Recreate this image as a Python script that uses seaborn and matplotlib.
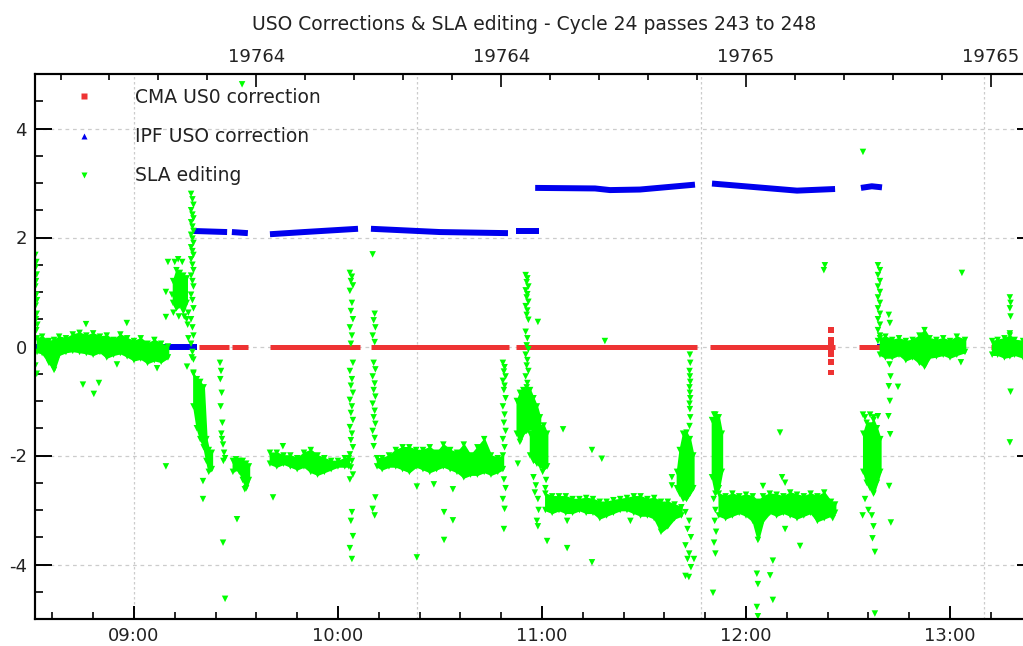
import matplotlib
matplotlib.use("Agg")
import matplotlib.pyplot as plt
from matplotlib.lines import Line2D
from matplotlib.ticker import FixedLocator, MultipleLocator, FixedFormatter, FuncFormatter
import numpy as np
import pandas as pd
import seaborn as sns

# ---------------- axis definitions (time in minutes after 00:00) ----------------
x_lo, x_hi = 510.9, 804.7
y_lo, y_hi = -5, 5
hour_ticks = [540, 600, 660, 720, 780]
hour_labels = ["09:00", "10:00", "11:00", "12:00", "13:00"]
day_ticks = [576, 648, 720, 792]
day_labels = ["19764", "19764", "19765", "19765"]
grid_times = [540, 623.33, 706.67, 790]
y_ticks = [-4, -2, 0, 2, 4]
title = "USO Corrections & SLA editing - Cycle 24 passes 243 to 248"
legend_labels = ["CMA US0 correction", "IPF USO correction", "SLA editing"]

# ---------------- CMA USO correction (runs at 0 + a few points) ----------------
cma_run_start = [559.1, 568.8, 580.0, 609.7, 652.4, 709.4, 753.2, 792.2]
cma_run_end = [568.0, 573.6, 606.5, 650.3, 705.6, 746.2, 784.4, 804.7]
cma_pts_t = [745.0, 745.0, 745.0, 745.0, 745.0, 745.0, 745.0]
cma_pts_v = [0.30, 0.12, 0.05, -0.08, -0.15, -0.28, -0.48]

# ---------------- IPF USO correction (segments) ----------------
ipf_seg0_t = [510.9, 558.5];            ipf_seg0_v = [0.0, 0.0]
ipf_seg1_t = [557.4, 567.4];            ipf_seg1_v = [2.12, 2.10]
ipf_seg2_t = [568.8, 573.5];            ipf_seg2_v = [2.10, 2.08]
ipf_seg3_t = [580.0, 590.0, 605.9];     ipf_seg3_v = [2.06, 2.10, 2.16]
ipf_seg4_t = [609.7, 630.0, 650.0];     ipf_seg4_v = [2.16, 2.10, 2.08]
ipf_seg5_t = [652.4, 659.1];            ipf_seg5_v = [2.12, 2.12]
ipf_seg6_t = [658.0, 675.6, 680.0, 688.8, 705.0]; ipf_seg6_v = [2.91, 2.90, 2.87, 2.88, 2.97]
ipf_seg7_t = [710.0, 735.0, 746.2];     ipf_seg7_v = [2.99, 2.86, 2.89]
ipf_seg8_t = [753.8, 757.0, 760.0];     ipf_seg8_v = [2.91, 2.94, 2.92]
ipf_seg9_t = [758.5, 784.0];            ipf_seg9_v = [0.0, 0.0]

# ---------------- SLA editing: dense bands (time, lower, upper) ----------------
bandA_t = [511.5, 513, 515, 516.5, 518, 520, 522, 524, 526, 528, 530, 532, 534, 536, 538, 540, 542, 544, 546, 548, 550]
bandA_hi = [0.15, 0.18, 0.1, 0.12, 0.18, 0.15, 0.22, 0.25, 0.2, 0.24, 0.18, 0.2, 0.12, 0.22, 0.15, 0.1, 0.15, 0.05, 0.12, 0.05, 0.0]
bandA_lo = [-0.1, -0.12, -0.3, -0.43, -0.15, -0.1, -0.08, -0.1, -0.12, -0.15, -0.1, -0.2, -0.15, -0.12, -0.18, -0.25, -0.22, -0.3, -0.25, -0.28, -0.2]
bandB_t = [551.5, 552.5, 553.5, 554.5, 555.5]
bandB_hi = [1.2, 1.4, 1.35, 1.3, 1.25]
bandB_lo = [0.8, 0.7, 0.75, 0.65, 0.8]
bandC0_t = [557.5, 558.5, 559.5, 560.5, 561.3, 562.0, 562.9]
bandC0_hi = [-0.5, -0.6, -0.65, -0.75, -1.7, -1.9, -1.95]
bandC0_lo = [-1.1, -1.5, -1.7, -1.85, -2.1, -2.3, -2.25]
bandC1_t = [569.1, 570, 571, 572, 573, 573.8]
bandC1_hi = [-2.1, -2.07, -2.1, -2.1, -2.15, -2.2]
bandC1_lo = [-2.3, -2.25, -2.3, -2.45, -2.6, -2.45]
bandC2_t = [580, 582, 584, 586, 588, 590, 592, 594, 596, 598, 600, 602, 603.2]
bandC2_hi = [-1.95, -1.95, -2.0, -2.0, -2.05, -1.95, -1.9, -2.0, -2.05, -2.1, -2.1, -2.05, -2.05]
bandC2_lo = [-2.15, -2.2, -2.15, -2.2, -2.25, -2.2, -2.3, -2.35, -2.3, -2.25, -2.2, -2.2, -2.2]
bandC3_t = [611.5, 613, 615, 617, 619, 621, 623, 625, 627, 629, 631, 633, 635, 637, 639, 641, 643, 645, 647, 648.5]
bandC3_hi = [-2.05, -2.05, -2.0, -1.9, -1.85, -1.85, -1.9, -1.9, -1.85, -1.95, -1.8, -1.9, -1.95, -1.8, -2.0, -1.85, -1.7, -2.0, -2.05, -2.0]
bandC3_lo = [-2.2, -2.25, -2.2, -2.2, -2.25, -2.3, -2.2, -2.25, -2.3, -2.25, -2.2, -2.25, -2.3, -2.4, -2.35, -2.35, -2.3, -2.35, -2.3, -2.25]
bandD0_t = [652.6, 653.5, 654.5, 655.5, 656.5, 657.5, 658.5, 659.4]
bandD0_hi = [-1.0, -0.85, -0.8, -0.75, -0.8, -0.95, -1.1, -1.3]
bandD0_lo = [-1.6, -1.75, -1.6, -1.55, -1.5, -1.55, -1.7, -1.9]
bandD1_t = [656.5, 657.5, 658.5, 659.5, 660.5, 661.5]
bandD1_hi = [-1.6, -1.5, -1.4, -1.5, -1.45, -1.6]
bandD1_lo = [-2.0, -2.1, -2.15, -2.2, -2.25, -2.2]
bandD2_t = [661, 663, 665, 667, 669, 671, 673, 675, 677, 679, 681, 683, 685, 687, 689, 691, 693, 695, 697, 699, 701]
bandD2_hi = [-2.7, -2.75, -2.75, -2.75, -2.8, -2.8, -2.78, -2.8, -2.85, -2.85, -2.82, -2.8, -2.78, -2.75, -2.75, -2.8, -2.78, -2.85, -2.85, -2.9, -2.95]
bandD2_lo = [-3.0, -3.05, -3.0, -3.05, -3.05, -3.0, -3.05, -3.05, -3.15, -3.1, -3.05, -3.0, -3.0, -3.05, -3.1, -3.1, -3.15, -3.4, -3.3, -3.15, -3.1]
bandE0_t = [699.7, 700.5, 701.5, 702.5, 703.5, 704.5]
bandE0_hi = [-2.3, -1.9, -1.6, -1.58, -1.7, -2.0]
bandE0_lo = [-2.6, -2.7, -2.8, -2.8, -2.7, -2.6]
bandE1_t = [710, 711, 712, 712.9]
bandE1_hi = [-1.35, -1.25, -1.3, -1.6]
bandE1_lo = [-2.4, -2.7, -2.6, -2.3]
bandE2_t = [712, 714, 716, 718, 720, 722, 723.5, 725, 727, 729, 731, 733, 735, 737, 739, 741, 743, 745, 746.2]
bandE2_hi = [-2.7, -2.75, -2.7, -2.75, -2.72, -2.75, -2.85, -2.75, -2.7, -2.72, -2.75, -2.68, -2.72, -2.75, -2.7, -2.75, -2.68, -2.85, -2.9]
bandE2_lo = [-3.1, -3.15, -3.1, -3.05, -3.1, -3.2, -3.55, -3.2, -3.05, -3.1, -3.05, -3.1, -3.15, -3.1, -3.05, -3.2, -3.15, -3.1, -3.05]
bandF0_t = [754.5, 755.5, 756.5, 757.5, 758.5, 759.5]
bandF0_hi = [-1.6, -1.4, -1.45, -1.35, -1.5, -1.7]
bandF0_lo = [-2.3, -2.5, -2.6, -2.7, -2.5, -2.3]
bandF1_t = [759.4, 761, 763, 765, 767, 769, 771, 772.5, 774, 776, 778, 780, 782, 784.4]
bandF1_hi = [0.15, 0.18, 0.12, 0.15, 0.1, 0.12, 0.2, 0.3, 0.15, 0.12, 0.15, 0.1, 0.18, 0.12]
bandF1_lo = [-0.15, -0.2, -0.2, -0.15, -0.25, -0.2, -0.3, -0.37, -0.2, -0.18, -0.15, -0.2, -0.15, -0.1]
bandG_t = [792.4, 794, 796, 797.6, 799, 801.5, 804.7]
bandG_hi = [0.1, 0.12, 0.15, 0.2, 0.12, 0.1, 0.1]
bandG_lo = [-0.15, -0.15, -0.2, -0.18, -0.15, -0.2, -0.2]

# ---------------- SLA editing: individual points ----------------
sla_start_t = [511.0, 511.3, 511.1, 511.4, 511.2, 511.0, 511.3, 511.5, 511.1, 511.4, 511.2, 511.6, 511.3, 511.0, 511.4]
sla_start_v = [1.68, 1.55, 1.45, 1.32, 1.2, 1.1, 0.95, 0.85, 0.75, 0.6, 0.5, 0.4, 0.3, -0.35, -0.5]
sla_early_t = [525.9, 537.9, 525.0, 529.7, 528.2, 535.0, 546.8, 549.4]
sla_early_v = [0.41, 0.43, -0.70, -0.67, -0.87, -0.33, -0.40, -2.2]
sla_clB_t = [550.0, 551.2, 551.6, 552.0, 553.0, 554.2, 554.8, 555.5, 553.2, 556.0, 555.8, 556.0, 555.6, 549.4, 549.4]
sla_clB_v = [1.55, 0.95, 0.62, 1.55, 1.6, 1.55, 0.55, 0.5, 0.55, 0.62, 0.4, 0.15, -0.37, 1.0, 0.54]
sla_tall_t = [556.8, 557.2, 557.5, 556.8, 557.2, 557.5, 556.8, 557.2, 557.5, 556.8, 557.2, 557.5, 556.8, 557.2, 557.5,
              556.8, 557.2, 557.5, 556.8, 557.2, 557.5, 556.8, 557.2, 557.5, 556.8, 557.2, 557.5, 556.8, 557.2, 557.5]
sla_tall_v = [2.8, 2.7, 2.6, 2.5, 2.42, 2.35, 2.28, 2.2, 2.12, 2.05, 1.98, 1.9, 1.82, 1.75, 1.68,
              1.6, 1.5, 1.4, 1.3, 1.2, 1.1, 0.95, 0.85, 0.7, 0.5, 0.35, 0.2, 0.05, -0.1, -0.24]
sla_c0_t = [560.3, 560.3, 557.5, 557.0]
sla_c0_v = [-2.47, -2.80, -0.48, -0.2]
sla_s566_t = [565.3, 565.6, 565.4, 565.8, 565.5, 566.0, 565.7, 566.2, 566.5, 566.8, 566.3, 565.9, 566.2, 566.8]
sla_s566_v = [-0.3, -0.45, -0.6, -0.85, -1.1, -1.4, -1.6, -1.8, -1.95, -2.05, -2.1, -1.7, -3.6, -4.63]
sla_c1_t = [572.6, 570.3, 571.8, 583.8, 580.9]
sla_c1_v = [-2.62, -3.17, 4.81, -1.83, -2.77]
sla_s604_t = [603.5, 604.1, 603.8, 604.4, 603.5, 604.1, 603.8, 604.4, 603.5, 604.1, 603.8, 604.4, 603.5, 604.1, 603.8, 604.4, 603.5,
              604.1, 603.8, 604.4, 603.5, 604.1, 603.8, 604.4, 603.5, 604.1, 603.8, 604.4, 603.5, 604.1, 603.8, 604.4, 603.5, 604.1]
sla_s604_v = [1.35, 1.28, 1.2, 1.12, 1.02, 0.8, 0.65, 0.5, 0.35, 0.2, 0.05, -0.3, -0.45, -0.6, -0.72, -0.85, -0.98,
              -1.1, -1.22, -1.35, -1.48, -1.6, -1.72, -1.85, -1.98, -2.1, -2.22, -2.35, -2.44, -3.04, -3.2, -3.48, -3.7, -3.9]
sla_s611_t = [610.2, 610.8, 610.5, 611.0, 610.2, 610.8, 610.5, 611.0, 610.2, 610.8, 610.5, 611.0, 610.2, 610.8, 610.5, 611.0, 610.2, 610.8, 610.5, 611.0, 610.2, 610.8]
sla_s611_v = [1.69, 0.6, 0.48, 0.35, 0.2, 0.08, -0.3, -0.42, -0.55, -0.68, -0.8, -0.92, -1.05, -1.18, -1.3, -1.42, -1.55, -1.68, -1.83, -2.77, -2.98, -3.1]
sla_c3_t = [623.2, 628.2, 623.2, 633.8, 631.2, 633.8, 631.2]
sla_c3_v = [-2.57, -2.53, -3.87, -2.62, -3.04, -3.19, -3.55]
sla_s649_t = [648.5, 649.0, 648.8, 649.3, 648.5, 649.0, 648.8, 649.3, 648.5, 649.0, 648.8, 649.3, 648.5, 649.0, 648.8, 649.3, 648.5, 649.0, 648.8]
sla_s649_v = [-0.3, -0.38, -0.46, -0.55, -0.63, -0.72, -0.8, -0.95, -1.1, -1.25, -1.4, -1.55, -1.7, -1.85, -2.44, -2.6, -2.8, -2.98, -3.35]
sla_s655_t = [655.2, 655.7, 655.5, 656.0, 655.2, 655.7, 655.5, 656.0, 655.2, 655.7, 655.5, 656.0, 655.2, 655.7, 655.5, 656.0, 655.2, 655.7, 655.5, 656.0, 655.2, 655.7]
sla_s655_v = [1.31, 1.25, 1.18, 1.1, 1.03, 0.96, 0.9, 0.82, 0.74, 0.66, 0.58, 0.49, 0.27, 0.15, 0.02, -0.05, -0.15, -0.25, -0.35, -0.45, -0.55, -0.67]
sla_d_t = [658.8, 652.9, 657.5, 658.2, 657.9, 658.8, 659.0, 658.5, 658.8, 661.5, 661.0, 661.2, 660.2,
           666.2, 674.7, 677.6, 667.4, 674.7, 678.5, 667.4, 686.0]
sla_d_v = [0.45, -2.15, -2.4, -2.55, -2.68, -2.8, -3.0, -3.2, -3.3, -3.57, -2.6, -2.45, -2.3,
           -1.52, -1.90, -2.06, -3.70, -3.96, 0.10, -3.2, -3.2]
sla_s703_t = [703.5, 703.6, 703.4, 703.5, 703.6, 703.4, 703.5, 703.6, 703.4, 703.5, 703.6, 703.4]
sla_s703_v = [-0.15, -0.3, -0.45, -0.55, -0.65, -0.75, -0.85, -0.95, -1.05, -1.15, -1.3, -1.46]
sla_e0_t = [702.2, 703.3, 702.8, 703.8, 702.2, 703.3, 702.8, 703.8, 702.2, 698.2, 698.2, 703.2, 704.7]
sla_e0_v = [-3.04, -3.2, -3.35, -3.5, -3.65, -3.8, -3.9, -4.05, -4.21, -2.4, -2.55, -4.23, -3.9]
sla_e1_t = [710.5, 711.0, 710.8, 711.2, 710.6, 711.0, 710.3, 710.6, 711.4]
sla_e1_v = [-2.8, -3.0, -3.2, -3.4, -3.6, -3.8, -4.52, -1.25, -1.3]
sla_e2_t = [730.0, 730.6, 731.5, 725.0, 731.5, 735.9, 727.9, 723.2, 727.1, 723.5, 727.9, 723.2, 723.5, 743.2, 742.9, 745.5]
sla_e2_v = [-1.58, -2.4, -2.5, -2.56, -3.35, -3.66, -3.93, -4.17, -4.2, -4.36, -4.65, -4.78, -4.95, 1.49, 1.40, -3.15]
sla_f0_t = [754.4, 755.0, 756.5, 757.5, 758.8, 755.0, 756.0, 757.0, 757.5, 757.2, 757.9, 757.9, 754.3, 754.4]
sla_f0_v = [-1.25, -1.3, -1.25, -1.3, -1.28, -2.8, -3.0, -3.1, -3.3, -3.52, -3.77, -4.9, -3.1, 3.57]
sla_f1_t = [758.8, 759.4, 758.8, 759.4, 758.8, 759.4, 758.8, 759.4, 758.8, 759.4, 758.8, 759.4, 758.8, 759.4, 758.8]
sla_f1_v = [1.49, 1.4, 1.31, 1.2, 1.1, 1.0, 0.9, 0.8, 0.7, 0.6, 0.5, 0.4, 0.3, 0.2, 0.1]
sla_f2_t = [762.0, 762.3, 761.8, 762.2, 762.5, 762.0, 762.3, 761.9, 762.4, 762.1, 762.6, 764.7, 783.5, 783.2]
sla_f2_v = [0.58, 0.43, -0.12, -0.33, -0.55, -0.73, -1.0, -1.28, -1.61, -2.56, -3.23, -0.74, 1.35, -0.29]
sla_g_t = [797.6, 797.8, 797.6, 797.8, 797.6, 797.8, 797.6]
sla_g_v = [0.9, 0.8, 0.7, 0.55, 0.24, -0.83, -1.76]

# ---------------- styling ----------------
RED = "#ee3333"
BLUE = "#0000ee"
GREEN = "#00ff00"
TXT = "#222222"
FS_TXT = 13.5
FS_TICK = 13

sns.set_style("white")
plt.rcParams["font.family"] = ["DejaVu Sans"]
plt.rcParams["font.size"] = FS_TXT

W, H = 1023, 646
fig = plt.figure(figsize=(W / 100, H / 100), dpi=100)
L, R, T, B = 35, 1034, 74, 619
ax = fig.add_axes([L / W, 1 - B / H, (R - L) / W, (B - T) / H])

# grid
for yv in y_ticks:
    ax.axhline(yv, color="#cccccc", lw=0.9, ls=(0, (3, 3)), zorder=0)
for tv in grid_times:
    ax.axvline(tv, color="#cccccc", lw=0.9, ls=(0, (2, 2)), zorder=0)

# IPF segments
ipf_frames = []
for i, (tt, vv) in enumerate([(ipf_seg0_t, ipf_seg0_v), (ipf_seg1_t, ipf_seg1_v), (ipf_seg2_t, ipf_seg2_v),
                              (ipf_seg3_t, ipf_seg3_v), (ipf_seg4_t, ipf_seg4_v), (ipf_seg5_t, ipf_seg5_v),
                              (ipf_seg6_t, ipf_seg6_v), (ipf_seg7_t, ipf_seg7_v), (ipf_seg8_t, ipf_seg8_v),
                              (ipf_seg9_t, ipf_seg9_v)]):
    ipf_frames.append(pd.DataFrame({"t": tt, "v": vv, "seg": i}))
ipf_df = pd.concat(ipf_frames, ignore_index=True)
sns.lineplot(data=ipf_df, x="t", y="v", units="seg", estimator=None, sort=False,
             color=BLUE, lw=4.3, solid_capstyle="butt", ax=ax, zorder=2)

# CMA runs
cma_rows = []
for i, (a, b) in enumerate(zip(cma_run_start, cma_run_end)):
    cma_rows.append({"t": a, "v": 0.0, "seg": i})
    cma_rows.append({"t": b, "v": 0.0, "seg": i})
cma_df = pd.DataFrame(cma_rows)
sns.lineplot(data=cma_df, x="t", y="v", units="seg", estimator=None, sort=False,
             color=RED, lw=3.6, solid_capstyle="butt", ax=ax, zorder=3)
sns.scatterplot(x=cma_pts_t, y=cma_pts_v, marker="s", s=16, color=RED, edgecolor="none", ax=ax, zorder=3)

# SLA bands
bands = [(bandA_t, bandA_lo, bandA_hi), (bandB_t, bandB_lo, bandB_hi), (bandC0_t, bandC0_lo, bandC0_hi),
         (bandC1_t, bandC1_lo, bandC1_hi), (bandC2_t, bandC2_lo, bandC2_hi), (bandC3_t, bandC3_lo, bandC3_hi),
         (bandD0_t, bandD0_lo, bandD0_hi), (bandD1_t, bandD1_lo, bandD1_hi), (bandD2_t, bandD2_lo, bandD2_hi),
         (bandE0_t, bandE0_lo, bandE0_hi), (bandE1_t, bandE1_lo, bandE1_hi), (bandE2_t, bandE2_lo, bandE2_hi),
         (bandF0_t, bandF0_lo, bandF0_hi), (bandF1_t, bandF1_lo, bandF1_hi), (bandG_t, bandG_lo, bandG_hi)]
edge_t, edge_v = [], []
for bt, blo, bhi in bands:
    ax.fill_between(bt, blo, bhi, color=GREEN, lw=1.2, edgecolor=GREEN, zorder=4)
    edge_t += list(bt) + list(bt)
    edge_v += list(blo) + list(bhi)
sns.scatterplot(x=edge_t, y=edge_v, marker="v", s=22, color=GREEN, edgecolor="none", ax=ax, zorder=4)

pts_t = (sla_start_t + sla_early_t + sla_clB_t + sla_tall_t + sla_c0_t + sla_s566_t + sla_c1_t + sla_s604_t +
         sla_s611_t + sla_c3_t + sla_s649_t + sla_s655_t + sla_d_t + sla_s703_t + sla_e0_t + sla_e1_t +
         sla_e2_t + sla_f0_t + sla_f1_t + sla_f2_t + sla_g_t)
pts_v = (sla_start_v + sla_early_v + sla_clB_v + sla_tall_v + sla_c0_v + sla_s566_v + sla_c1_v + sla_s604_v +
         sla_s611_v + sla_c3_v + sla_s649_v + sla_s655_v + sla_d_v + sla_s703_v + sla_e0_v + sla_e1_v +
         sla_e2_v + sla_f0_v + sla_f1_v + sla_f2_v + sla_g_v)
sns.scatterplot(x=pts_t, y=pts_v, marker="v", s=22, color=GREEN, edgecolor="none", ax=ax, zorder=5)

# axes limits / ticks
ax.set_xlim(x_lo, x_hi)
ax.set_ylim(y_lo, y_hi)
ax.set_xlabel("")
ax.set_ylabel("")
ax.xaxis.set_major_locator(FixedLocator(hour_ticks))
ax.xaxis.set_major_formatter(FixedFormatter(hour_labels))
ax.xaxis.set_minor_locator(MultipleLocator(12))
ax.yaxis.set_major_locator(FixedLocator(y_ticks))
ax.yaxis.set_minor_locator(MultipleLocator(0.5))
ax.yaxis.set_major_formatter(FuncFormatter(lambda v, p: f"{int(v)}"))
ax.tick_params(axis="x", which="major", direction="in", length=9.4, width=1.4, pad=6.0, colors="black",
               labelcolor=TXT, labelsize=FS_TICK, top=False, bottom=True)
ax.tick_params(axis="x", which="minor", direction="in", length=5, width=1.4, top=False, bottom=True)
ax.tick_params(axis="y", which="major", direction="in", length=12, width=1.4, pad=6, colors="black",
               labelcolor=TXT, labelsize=FS_TICK, left=True, right=True)
ax.tick_params(axis="y", which="minor", direction="in", length=6, width=1.4, left=True, right=True)
for sp in ax.spines.values():
    sp.set_color("black")
    sp.set_linewidth(1.5)
    sp.set_visible(True)

# top axis with day numbers
ax2 = ax.twiny()
ax2.set_xlim(x_lo, x_hi)
ax2.xaxis.set_major_locator(FixedLocator(day_ticks))
ax2.xaxis.set_major_formatter(FixedFormatter(day_labels))
ax2.xaxis.set_minor_locator(MultipleLocator(14.4))
ax2.tick_params(axis="x", which="major", direction="in", length=9.4, width=1.4, pad=5.5,
                labelcolor=TXT, labelsize=FS_TICK)
ax2.tick_params(axis="x", which="minor", direction="in", length=4.5, width=1.4)
for sp in ax2.spines.values():
    sp.set_linewidth(1.5)
    sp.set_color("black")

# legend
em = FS_TXT * 100 / 72
handles = [Line2D([], [], ls="none", marker="s", ms=4.2, color=RED, mec="none"),
           Line2D([], [], ls="none", marker="^", ms=4.8, color=BLUE, mec="none"),
           Line2D([], [], ls="none", marker="v", ms=4.8, color=GREEN, mec="none")]
leg = ax.legend(handles, legend_labels, loc="upper left", bbox_to_anchor=((84 - em) / W, 1 - 88 / H),
                bbox_transform=fig.transFigure, frameon=False, borderpad=0, borderaxespad=0,
                handlelength=2.0, handletextpad=(135 - 84 - em) / em, labelspacing=1.07, fontsize=FS_TXT)
for t in leg.get_texts():
    t.set_color(TXT)

fig.text((L + R) / 2 / W, 1 - 29.5 / H, title, ha="center", va="baseline", fontsize=FS_TXT, color=TXT)

fig.savefig("out.png", dpi=100)
